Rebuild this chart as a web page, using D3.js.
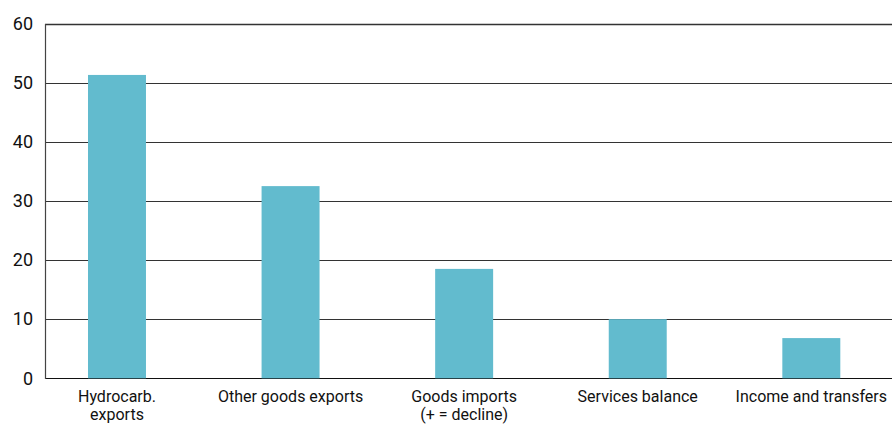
<!DOCTYPE html>
<html><head><meta charset="utf-8">
<script src="https://cdn.jsdelivr.net/npm/d3@7"></script>
<style>body{margin:0;background:#fff}svg{display:block}text{font-family:Roboto,"DejaVu Sans Condensed",sans-serif;fill:#111}</style>
</head><body><div id="chart"></div>
<script>
const categories = [["Hydrocarb.","exports"],["Other goods exports"],["Goods imports","(+ = decline)"],["Services balance"],["Income and transfers"]];
const values = [51.3, 32.5, 18.5, 10.0, 6.8];
const yTicks = [0,10,20,30,40,50,60];

(function(){
const W = 892, H = 427;
const mLeft = 45, mTop = 23.5, mBottom = 378.3;
const svg = d3.select("#chart").append("svg").attr("width", W).attr("height", H);

const x = d3.scaleBand().domain(d3.range(categories.length)).range([mLeft, 883.3]).paddingInner(0.666).paddingOuter(0.2477);
const y = d3.scaleLinear().domain([0, 60]).range([mBottom, mTop]);

// gridlines
svg.append("g").selectAll("line").data(yTicks).join("line")
  .attr("x1", mLeft).attr("x2", W).attr("y1", d => Math.round(y(d)) + 0.5).attr("y2", d => Math.round(y(d)) + 0.5)
  .attr("stroke", d => d === 0 ? "#111" : "#333").attr("stroke-width", d => d === 60 ? 1.4 : 1);

// y axis line
svg.append("line").attr("x1", mLeft + 0.5).attr("x2", mLeft + 0.5).attr("y1", Math.round(y(60))).attr("y2", Math.round(y(0)) + 1)
  .attr("stroke", "#444").attr("stroke-width", 1.2);

// tick labels
const yAxis = d3.axisLeft(y).tickValues(yTicks).tickSize(0).tickPadding(12);
const ga = svg.append("g").attr("transform", `translate(${mLeft},0)`).call(yAxis);
ga.select(".domain").remove();
ga.selectAll("text").attr("font-size", 18).attr("font-family", "Roboto, sans-serif").attr("fill", "#111");

// bars
svg.append("g").selectAll("rect").data(values).join("rect")
  .attr("x", (d, i) => x(i)).attr("width", x.bandwidth())
  .attr("y", d => y(d)).attr("height", d => y(0) - y(d))
  .attr("fill", "#62bbce");

// category labels (one text per line)
const lines = [];
categories.forEach((c, i) => c.forEach((t, j) => lines.push({i, j, t})));
svg.append("g").selectAll("text").data(lines).join("text")
  .attr("x", d => x(d.i) + x.bandwidth() / 2).attr("y", d => 402 + d.j * 17.5)
  .attr("text-anchor", "middle").attr("font-size", 16).text(d => d.t);
})();
</script></body></html>
